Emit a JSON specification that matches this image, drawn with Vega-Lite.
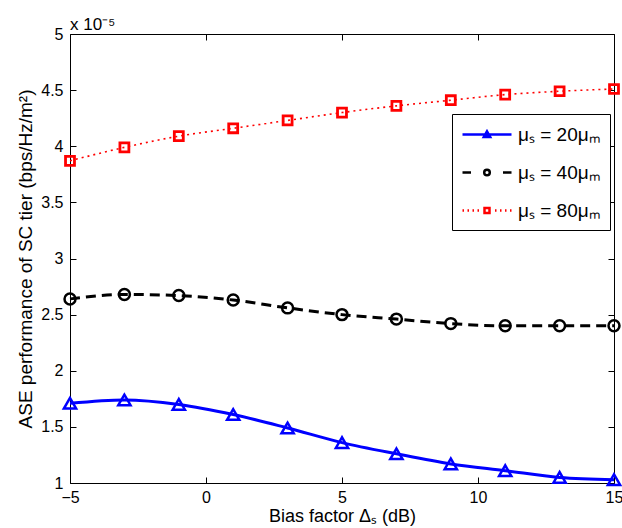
{
  "$schema": "https://vega.github.io/schema/vega-lite/v6.json",
  "width": 544,
  "height": 449,
  "autosize": {"type": "none"},
  "padding": {"left": 70, "top": 34, "right": 8, "bottom": 45},
  "title": {"text": "x 10⁻⁵", "anchor": "start", "frame": "group", "fontSize": 17, "fontWeight": "normal", "font": "Liberation Sans", "color": "black", "dx": 0, "offset": -21, "baseline": "alphabetic"},
  "config": {
    "font": "Liberation Sans",
    "view": {"stroke": "black", "strokeWidth": 1},
    "axis": {
      "grid": false,
      "domain": false,
      "offset": -6,
      "tickColor": "black",
      "tickSize": 6,
      "tickWidth": 1,
      "labelFont": "Liberation Sans",
      "labelFontSize": 16,
      "labelColor": "black",
      "labelPadding": 7,
      "titleFont": "Liberation Sans",
      "titleFontSize": 19,
      "titleFontWeight": "normal",
      "titleColor": "black"
    }
  },
  "data": {
    "values": [
      {"x": -5, "y": 1.71, "m": 20}, {"x": -3, "y": 1.74, "m": 20}, {"x": -1, "y": 1.70, "m": 20},
      {"x": 1, "y": 1.61, "m": 20}, {"x": 3, "y": 1.49, "m": 20}, {"x": 5, "y": 1.36, "m": 20},
      {"x": 7, "y": 1.26, "m": 20}, {"x": 9, "y": 1.17, "m": 20}, {"x": 11, "y": 1.11, "m": 20},
      {"x": 13, "y": 1.05, "m": 20}, {"x": 15, "y": 1.03, "m": 20},
      {"x": -5, "y": 2.64, "m": 40}, {"x": -3, "y": 2.68, "m": 40}, {"x": -1, "y": 2.67, "m": 40},
      {"x": 1, "y": 2.63, "m": 40}, {"x": 3, "y": 2.56, "m": 40}, {"x": 5, "y": 2.50, "m": 40},
      {"x": 7, "y": 2.46, "m": 40}, {"x": 9, "y": 2.42, "m": 40}, {"x": 11, "y": 2.40, "m": 40},
      {"x": 13, "y": 2.40, "m": 40}, {"x": 15, "y": 2.40, "m": 40},
      {"x": -5, "y": 3.87, "m": 80}, {"x": -3, "y": 3.99, "m": 80}, {"x": -1, "y": 4.09, "m": 80},
      {"x": 1, "y": 4.16, "m": 80}, {"x": 3, "y": 4.23, "m": 80}, {"x": 5, "y": 4.30, "m": 80},
      {"x": 7, "y": 4.36, "m": 80}, {"x": 9, "y": 4.41, "m": 80}, {"x": 11, "y": 4.46, "m": 80},
      {"x": 13, "y": 4.49, "m": 80}, {"x": 15, "y": 4.51, "m": 80}
    ]
  },
  "encoding": {
    "x": {"field": "x", "type": "quantitative", "scale": {"domain": [-5, 15], "nice": false}, "axis": null},
    "y": {"field": "y", "type": "quantitative", "scale": {"domain": [1, 5], "zero": false, "nice": false}, "axis": null}
  },
  "layer": [
    {
      "transform": [{"filter": "datum.m == 20"}],
      "mark": {"type": "line", "interpolate": "monotone", "color": "#0000ff", "strokeWidth": 3},
      "encoding": {
        "x": {"field": "x", "type": "quantitative", "scale": {"domain": [-5, 15], "nice": false},
          "axis": {"values": [-5, 0, 5, 10, 15], "title": "Bias factor Δₛ (dB)", "labelFlush": false, "labelPadding": 6, "titleFontSize": 18, "titleY": 44, "titleBaseline": "alphabetic"}},
        "y": {"field": "y", "type": "quantitative", "scale": {"domain": [1, 5], "zero": false, "nice": false},
          "axis": {"values": [1, 1.5, 2, 2.5, 3, 3.5, 4, 4.5, 5], "format": ".1~f", "title": "ASE performance of SC tier (bps/Hz/m²)", "titleX": -45, "titleY": 224.5, "titleBaseline": "alphabetic"}}
      }
    },
    {
      "transform": [{"filter": "datum.m == 40"}],
      "mark": {"type": "line", "interpolate": "monotone", "color": "#000000", "strokeWidth": 3, "strokeDash": [10, 6]}
    },
    {
      "transform": [{"filter": "datum.m == 80"}],
      "mark": {"type": "line", "interpolate": "monotone", "color": "#ff0000", "strokeWidth": 1.6, "strokeDash": [2, 4]}
    },
    {
      "transform": [{"filter": "datum.m == 20"}],
      "mark": {"type": "point", "shape": "triangle-up", "size": 150, "filled": false, "strokeWidth": 2.5, "color": "#0000ff", "opacity": 1}
    },
    {
      "transform": [{"filter": "datum.m == 40"}],
      "mark": {"type": "point", "shape": "circle", "size": 120, "filled": false, "strokeWidth": 2.5, "color": "#000000", "opacity": 1}
    },
    {
      "transform": [{"filter": "datum.m == 80"}],
      "mark": {"type": "point", "shape": "square", "size": 80, "filled": false, "strokeWidth": 2.8, "color": "#ff0000", "opacity": 1}
    },
    {
      "transform": [{"filter": "datum.x > 100"}],
      "mark": {"type": "point", "filled": false, "opacity": 1, "strokeWidth": 2.5},
      "encoding": {
        "x": {"field": "x", "type": "quantitative", "scale": {"domain": [-5, 15], "nice": false},
          "axis": {"orient": "top", "values": [-5, 0, 5, 10, 15], "labels": false, "title": null}},
        "y": {"field": "y", "type": "quantitative", "scale": {"domain": [1, 5], "zero": false, "nice": false},
          "axis": {"orient": "right", "values": [1, 1.5, 2, 2.5, 3, 3.5, 4, 4.5, 5], "labels": false, "title": null}},
        "color": {"field": "m", "type": "nominal", "scale": {"domain": [20, 40, 80], "range": ["#0000ff", "#000000", "#ff0000"]},
          "legend": {"title": null, "orient": "none", "legendX": 382, "legendY": 80, "labelExpr": "'μₛ = ' + datum.label + 'μₘ'", "labelFontSize": 19, "labelFont": "Liberation Sans", "labelColor": "black", "symbolSize": 400, "symbolStrokeWidth": 2.5, "symbolOpacity": 1, "strokeColor": "black", "fillColor": "white", "padding": 9, "rowPadding": 16, "symbolOffset": 14.5, "labelOffset": 19.5}},
        "shape": {"field": "m", "type": "nominal", "scale": {"domain": [20, 40, 80], "range": [
          "M-2.45,0H2.45M0,-0.32L0.32,0.24L-0.32,0.24Z",
          "M-2.45,0H-1.6M1.6,0H2.45M0.28,0A0.28,0.28,0,1,1,-0.28,0A0.28,0.28,0,1,1,0.28,0",
          "M-2.45,0H-2.3M-1.95,0H-1.8M-1.45,0H-1.3M-0.95,0H-0.8M0.8,0H0.95M1.3,0H1.45M1.8,0H1.95M2.3,0H2.45M-0.25,-0.25H0.25V0.25H-0.25Z"
        ]},
          "legend": {"title": null, "orient": "none", "legendX": 382, "legendY": 80, "labelExpr": "'μₛ = ' + datum.label + 'μₘ'", "labelFontSize": 19, "labelFont": "Liberation Sans", "labelColor": "black", "symbolSize": 400, "symbolStrokeWidth": 2.5, "symbolOpacity": 1, "strokeColor": "black", "fillColor": "white", "padding": 9, "rowPadding": 16, "symbolOffset": 14.5, "labelOffset": 19.5}}
      }
    }
  ],
  "resolve": {"axis": {"x": "independent", "y": "independent"}}
}
